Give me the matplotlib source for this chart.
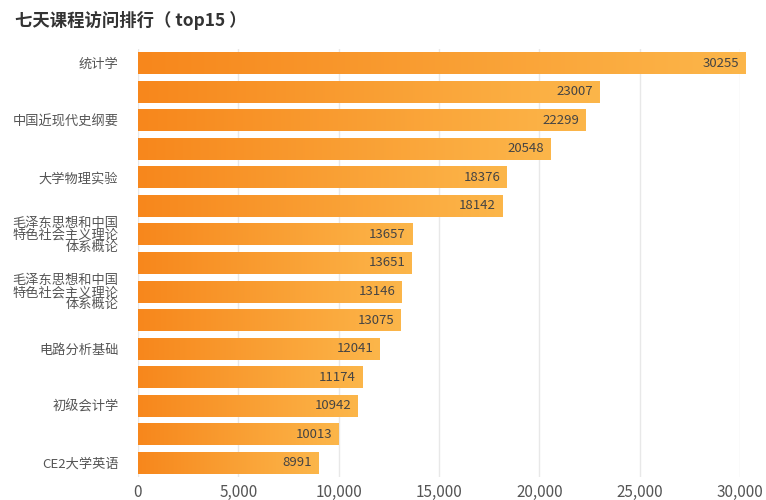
import numpy as np
import matplotlib
matplotlib.use("Agg")
import matplotlib.pyplot as plt
from matplotlib.colors import LinearSegmentedColormap

plt.rcParams['font.family'] = ['Noto Sans CJK SC', 'DejaVu Sans']

title = "七天课程访问排行（ top15 ）"
mzd = "毛泽东思想和中国\n特色社会主义理论\n体系概论"
courses = ["统计学", "", "中国近现代史纲要", "", "大学物理实验", "",
           mzd, "", mzd, "", "电路分析基础", "", "初级会计学", "", "CE2大学英语"]
visits = [30255, 23007, 22299, 20548, 18376, 18142, 13657, 13651,
          13146, 13075, 12041, 11174, 10942, 10013, 8991]
xticks = [0, 5000, 10000, 15000, 20000, 25000, 30000]

cmap = LinearSegmentedColormap.from_list("orange", ["#f7871c", "#fcb64a"])

fig = plt.figure(figsize=(7.66, 5.0), dpi=100)
ax = fig.add_axes([0.180, 0.046, 0.786, 0.856])

y = np.arange(len(visits))
bars = ax.barh(y, visits, height=0.77, color="none", clip_on=False, zorder=2)

grad = np.linspace(0, 1, 256).reshape(1, -1)
for bar, v in zip(bars, visits):
    x0, y0 = bar.get_x(), bar.get_y()
    w, h = bar.get_width(), bar.get_height()
    im = ax.imshow(grad, cmap=cmap, aspect="auto", extent=[x0, x0 + w, y0 + h, y0],
                   zorder=2, clip_on=False)
    im.set_clip_path(bar)
    ax.text(x0 + w - 300, y0 + h / 2, str(v), ha="right", va="center",
            fontsize=9.5, color="#444444", zorder=3)

ax.set_xlim(0, 30000)
ax.set_ylim(len(visits) - 0.5, -0.5)
ax.set_xticks(xticks)
ax.set_xticklabels([f"{t:,}" for t in xticks], fontsize=11, color="#555555")
ax.set_yticks(y)
ax.set_yticklabels(courses, fontsize=9.5, color="#555555", linespacing=0.9,
                   multialignment="right")
ax.tick_params(axis="both", length=0)
ax.tick_params(axis="y", pad=14)
ax.tick_params(axis="x", pad=5)
ax.grid(axis="x", color="#e8e8e8", linewidth=1, zorder=0)
ax.set_axisbelow(True)
for s in ax.spines.values():
    s.set_visible(False)

fig.text(15 / 766, 1 - 20 / 500, title, fontsize=12.5, fontweight="bold",
         color="#333333", ha="left", va="center")

fig.savefig("out.png", dpi=100)
